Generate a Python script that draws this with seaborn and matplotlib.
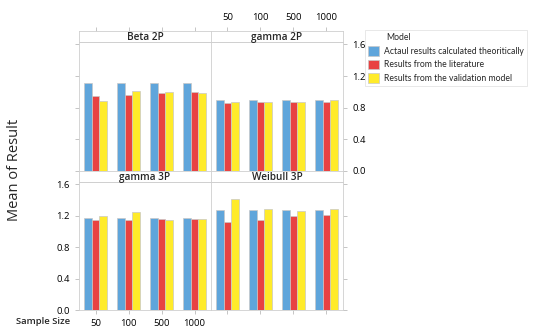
import matplotlib
matplotlib.use("Agg")
import matplotlib.pyplot as plt
import seaborn as sns
import pandas as pd
from matplotlib.patches import Patch

sample_sizes = ["50", "100", "500", "1000"]
models = ["Actaul results calculated theoritically",
          "Results from the literature",
          "Results from the validation model"]
distributions = ["Beta 2P", "gamma 2P", "gamma 3P", "Weibull 3P"]

actual = {
    "Beta 2P":    [1.11, 1.11, 1.11, 1.11],
    "gamma 2P":   [0.90, 0.90, 0.90, 0.90],
    "gamma 3P":   [1.175, 1.175, 1.175, 1.175],
    "Weibull 3P": [1.27, 1.27, 1.27, 1.27],
}
literature = {
    "Beta 2P":    [0.945, 0.955, 0.98, 0.995],
    "gamma 2P":   [0.86, 0.87, 0.87, 0.87],
    "gamma 3P":   [1.15, 1.15, 1.16, 1.16],
    "Weibull 3P": [1.115, 1.14, 1.195, 1.205],
}
validation = {
    "Beta 2P":    [0.885, 1.005, 0.995, 0.98],
    "gamma 2P":   [0.875, 0.87, 0.87, 0.90],
    "gamma 3P":   [1.20, 1.245, 1.14, 1.16],
    "Weibull 3P": [1.41, 1.29, 1.26, 1.29],
}

colors = ["#5FA5DB", "#E84242", "#FFEB2A"]

rows = []
for d in distributions:
    for src, m in zip([actual, literature, validation], models):
        for s, v in zip(sample_sizes, src[d]):
            rows.append({"Distribution": d, "Model": m, "Sample Size": s, "Result": v})
df = pd.DataFrame(rows)

sns.set_style("white")
plt.rcParams["font.family"] = ["Open Sans", "DejaVu Sans"]

W, H = 550, 333
fig = plt.figure(figsize=(5.5, 3.33), dpi=100)

def ax_rect(x0, y0, x1, y1):
    return [x0 / W, 1 - y1 / H, (x1 - x0) / W, (y1 - y0) / H]

panel_x = [(79, 211), (211, 343)]
rows_y = [((31, 42), (42, 171)), ((171, 182), (182, 310))]
gray = "#CFCFCF"
tickc = "#BBBBBB"
fs = 6.8

for i, d in enumerate(distributions):
    r, c = divmod(i, 2)
    (sy0, sy1), (py0, py1) = rows_y[r]
    x0, x1 = panel_x[c]
    ax = fig.add_axes(ax_rect(x0, py0, x1, py1))
    sub = df[df["Distribution"] == d]
    sns.barplot(data=sub, x="Sample Size", y="Result", hue="Model",
                order=sample_sizes, hue_order=models, palette=colors,
                width=0.67, ax=ax, legend=False, errorbar=None,
                edgecolor="#C8C8C8", linewidth=0.5, saturation=1)
    ax.set_ylim(0, 1.63)
    ax.set_xlim(-0.5, 3.5)
    ax.set_xlabel("")
    ax.set_ylabel("")
    ax.set_yticks([0, 0.4, 0.8, 1.2, 1.6])
    for sp in ax.spines.values():
        sp.set_color(gray)
        sp.set_linewidth(0.6)
    ax.tick_params(colors=tickc, labelcolor="black", labelsize=fs, length=3, width=0.6)
    if c == 0:
        ax.yaxis.tick_left()
        if r == 1:
            ax.set_yticklabels(["0.0", "0.4", "0.8", "1.2", "1.6"])
        else:
            ax.set_yticklabels([])
    else:
        ax.yaxis.tick_right()
        if r == 0:
            ax.set_yticklabels(["0.0", "0.4", "0.8", "1.2", "1.6"])
        else:
            ax.set_yticklabels([])
    if r == 1:
        ax.xaxis.tick_bottom()
        if c == 0:
            ax.set_xticklabels(sample_sizes)
        else:
            ax.set_xticklabels([])
    else:
        ax.set_xticks([])

    # strip
    sax = fig.add_axes(ax_rect(x0, sy0, x1, sy1))
    sax.set_xlim(-0.5, 3.5)
    sax.set_yticks([])
    for sp in sax.spines.values():
        sp.set_color(gray)
        sp.set_linewidth(0.6)
    sax.text(0.5, 0.45, d, ha="center", va="center", fontsize=fs + 0.4,
             fontweight="semibold", transform=sax.transAxes)
    if r == 0:
        sax.xaxis.tick_top()
        sax.set_xticks(range(4))
        sax.tick_params(colors=tickc, labelcolor="black", labelsize=fs, length=3, width=0.6)
        if c == 1:
            sax.set_xticklabels(sample_sizes)
        else:
            sax.set_xticklabels([])
    else:
        sax.set_xticks([])

fig.text(15 / W, 1 - 170 / H, "Mean of Result", rotation=90, ha="center", va="center",
         fontsize=10.5)
fig.text(70 / W, 1 - 321 / H, "Sample Size", ha="right", va="center",
         fontsize=fs, fontweight="semibold")

handles = [Patch(facecolor=col, edgecolor="#C8C8C8", linewidth=0.5) for col in colors]
leg = fig.legend(handles, models, title="Model", loc="upper left",
                 bbox_to_anchor=(365 / W, 1 - 30 / H), borderaxespad=0,
                 prop={"family": "Lato", "size": 6.2},
                 title_fontproperties={"family": "Lato", "size": 6.2},
                 frameon=True, fancybox=False,
                 handlelength=1.2, handleheight=1.3, handletextpad=0.6,
                 borderpad=0.4, labelspacing=0.45)
leg.get_frame().set_edgecolor("#DDDDDD")
leg.get_frame().set_linewidth(0.6)
leg._legend_box.align = "left"
leg.get_title().set_position((18, 0))

fig.savefig("out.png", dpi=100)
